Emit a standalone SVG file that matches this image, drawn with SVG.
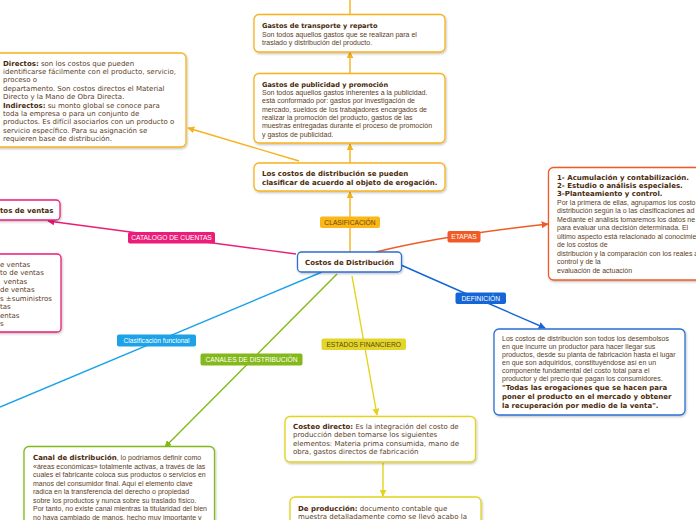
<svg xmlns="http://www.w3.org/2000/svg" width="696" height="520" viewBox="0 0 696 520">
<defs>
<style>
.box{fill:#fff;stroke-width:1.3;filter:url(#sh)}
.t{font-family:"DejaVu Sans",Verdana,sans-serif;font-size:7px;fill:#5c3d1e}
.a{font-family:"Liberation Sans",Arial,sans-serif;font-size:7px;fill:#5c3d1e}
.b{font-family:"DejaVu Sans",Verdana,sans-serif;font-weight:bold;fill:#4a2a0a}
.ti{font-size:6.6px}
.lbl{font-family:"Liberation Sans",Arial,sans-serif;font-size:6.7px;text-anchor:middle;fill:#fff}
.e{fill:none;stroke-width:1.4}
.or{stroke:#f7b21c}.pk{stroke:#ec1d78}.sk{stroke:#1ca2e6}.gr{stroke:#85b81a}.ye{stroke:#e3d31d}.rd{stroke:#f15a24}.bl{stroke:#1465d6}
</style>
<filter id="sh" x="-10%" y="-10%" width="130%" height="140%"><feDropShadow dx="0.8" dy="1.2" stdDeviation="1" flood-color="#000" flood-opacity="0.25"/></filter>
<marker id="mOr" viewBox="0 0 10 10" refX="9" refY="5" markerWidth="7" markerHeight="7" markerUnits="userSpaceOnUse" orient="auto"><path d="M0,0L10,5L0,10z" fill="#f7b21c"/></marker>
<marker id="mPk" viewBox="0 0 10 10" refX="9" refY="5" markerWidth="7" markerHeight="7" markerUnits="userSpaceOnUse" orient="auto"><path d="M0,0L10,5L0,10z" fill="#ec1d78"/></marker>
<marker id="mGr" viewBox="0 0 10 10" refX="9" refY="5" markerWidth="7" markerHeight="7" markerUnits="userSpaceOnUse" orient="auto"><path d="M0,0L10,5L0,10z" fill="#85b81a"/></marker>
<marker id="mYe" viewBox="0 0 10 10" refX="9" refY="5" markerWidth="7" markerHeight="7" markerUnits="userSpaceOnUse" orient="auto"><path d="M0,0L10,5L0,10z" fill="#e3d31d"/></marker>
<marker id="mRd" viewBox="0 0 10 10" refX="9" refY="5" markerWidth="7" markerHeight="7" markerUnits="userSpaceOnUse" orient="auto"><path d="M0,0L10,5L0,10z" fill="#f15a24"/></marker>
<marker id="mBl" viewBox="0 0 10 10" refX="9" refY="5" markerWidth="7" markerHeight="7" markerUnits="userSpaceOnUse" orient="auto"><path d="M0,0L10,5L0,10z" fill="#1465d6"/></marker>
</defs>
<rect width="696" height="520" fill="#fff"/>

<g id="connectors">
<path class="e or" d="M350,252V192" marker-end="url(#mOr)"/>
<path class="e or" d="M350,163V144" marker-end="url(#mOr)"/>
<path class="e or" d="M350,73V52" marker-end="url(#mOr)"/>
<path class="e or" d="M350,14V0"/>
<path class="e or" d="M299,161L188,128" marker-end="url(#mOr)"/>
<path class="e pk" d="M296,254L48,221" marker-end="url(#mPk)"/>
<path class="e sk" d="M322,272L0,407"/>
<path class="e gr" d="M337,274L165,447" marker-end="url(#mGr)"/>
<path class="e ye" d="M352,276L377,415" marker-end="url(#mYe)"/>
<path class="e ye" d="M383,463V496" marker-end="url(#mYe)"/>
<path class="e rd" d="M376,252Q440,236 548,224" marker-end="url(#mRd)"/>
<path class="e bl" d="M401,265Q480,300 545,328" marker-end="url(#mBl)"/>
<rect x="320" y="216.5" width="60" height="11.5" rx="2" fill="#fbb617"/>
<text class="lbl" x="350" y="224.8" style="fill:#6b4810">CLASIFICACIÓN</text>
<rect x="128" y="232" width="87" height="11.5" rx="2" fill="#ec1d78"/>
<text class="lbl" x="171.5" y="240.3">CATALOGO DE CUENTAS</text>
<rect x="447.5" y="231" width="33" height="11.5" rx="2" fill="#f15a24"/>
<text class="lbl" x="464" y="239.3">ETAPAS</text>
<rect x="455.5" y="292.5" width="50.5" height="11.5" rx="2" fill="#1465d6"/>
<text class="lbl" x="480.7" y="300.8">DEFINICIÓN</text>
<rect x="117" y="334.5" width="79" height="12" rx="2" fill="#1ca2e6"/>
<text class="lbl" x="156.5" y="343">Clasificación funcional</text>
<rect x="200.5" y="353.5" width="102" height="12" rx="2" fill="#85b81a"/>
<text class="lbl" x="251.5" y="362">CANALES DE DISTRIBUCIÓN</text>
<rect x="321.5" y="338.5" width="84.5" height="11.5" rx="2" fill="#e3d52a"/>
<text class="lbl" x="363.7" y="346.8" style="fill:#5a4a10">ESTADOS FINANCIERO</text>
</g>

<g id="central">
<rect class="box" x="297.5" y="252" width="104" height="20" rx="4" stroke="#2b6fd3"/>
<text class="b" x="349.5" y="264.5" font-size="7" text-anchor="middle">Costos de Distribución</text>
</g>

<g id="transporte">
<rect class="box" x="254" y="14.5" width="191" height="37.5" rx="5" stroke="#f7b21c"/>
<text class="b ti" x="262" y="27.5">Gastos de transporte y reparto</text>
<text class="a" x="262" y="37">Son todos aquellos gastos que se realizan para el</text>
<text class="a" x="262" y="45.3">traslado y distribución del producto.</text>
</g>

<g id="publicidad">
<rect class="box" x="254" y="73.5" width="191" height="69.5" rx="5" stroke="#f7b21c"/>
<text class="b ti" x="262" y="86.5">Gastos de publicidad y promoción</text>
<text class="a" x="262" y="95">Son todos aquellos gastos inherentes a la publicidad.</text>
<text class="a" x="262" y="103.3"> está conformado por: gastos por investigación de</text>
<text class="a" x="262" y="111.6">mercado, sueldos de los trabajadores encargados de</text>
<text class="a" x="262" y="119.9">realizar la promoción del producto, gastos de las</text>
<text class="a" x="262" y="128.2">muestras entregadas durante el proceso de promoción</text>
<text class="a" x="262" y="136.5">y gastos de publicidad.</text>
</g>

<g id="clasificar">
<rect class="box" x="254" y="163" width="191" height="28" rx="5" stroke="#f7b21c"/>
<text class="b" x="262" y="176" font-size="7">Los costos de distribución se pueden</text>
<text class="b" x="262" y="184.6" font-size="7">clasificar de acuerdo al objeto de erogación.</text>
</g>

<g id="directos">
<rect class="box" x="-5" y="53" width="191" height="94" rx="5" stroke="#f7b21c"/>
<text class="t" x="3" y="65.5"><tspan class="b">Directos:</tspan> son los costos que pueden</text>
<text class="t" x="3" y="73.9">identificarse fácilmente con el producto, servicio,</text>
<text class="t" x="3" y="82.3">proceso o</text>
<text class="t" x="3" y="90.7">departamento. Son costos directos el Material</text>
<text class="t" x="3" y="99.1">Directo y la Mano de Obra Directa.</text>
<text class="t" x="3" y="107.5"><tspan class="b">Indirectos:</tspan> su monto global se conoce para</text>
<text class="t" x="3" y="115.9">toda la empresa o para un conjunto de</text>
<text class="t" x="3" y="124.3">productos. Es difícil asociarlos con un producto o</text>
<text class="t" x="3" y="132.7">servicio específico. Para su asignación se</text>
<text class="t" x="3" y="141.1">requieren base de distribución.</text>
</g>

<g id="costos-ventas">
<rect class="box" x="-10" y="200" width="70" height="20" rx="4" stroke="#ec1d78"/>
<text class="b" x="0" y="213" font-size="7">tos de ventas</text>
</g>

<g id="catalogo-lista">
<rect class="box" x="-10" y="254" width="71" height="78" rx="4" stroke="#ec1d78"/>
<text class="t" x="0" y="266.5">e ventas</text>
<text class="t" x="0" y="275">to de ventas</text>
<text class="t" x="3.5" y="283.5">ventas</text>
<text class="t" x="0" y="292">de ventas</text>
<text class="t" x="0" y="300.5">s ±suministros</text>
<text class="t" x="0" y="309">tas</text>
<text class="t" x="0" y="317.5">entas</text>
<text class="t" x="0" y="326">s</text>
</g>

<g id="etapas">
<rect class="box" x="548.5" y="167.5" width="160" height="112.5" rx="5" stroke="#f15a24"/>
<text class="b" x="557" y="179.5" font-size="7">1- Acumulación y contabilización.</text>
<text class="b" x="557" y="188" font-size="7">2- Estudio o análisis especiales.</text>
<text class="b" x="557" y="196.4" font-size="7">3-Planteamiento y control.</text>
<text class="a" x="557" y="204.9">Por la primera de ellas, agrupamos los costo</text>
<text class="a" x="557" y="213.3">distribución según la o las clasificaciones ad</text>
<text class="a" x="557" y="221.8">Mediante el análisis tomaremos los datos ne</text>
<text class="a" x="557" y="230.2">para evaluar una decisión determinada. El</text>
<text class="a" x="557" y="238.7">último aspecto está relacionado al conocimie</text>
<text class="a" x="557" y="247.1">de los costos de</text>
<text class="a" x="557" y="255.6">distribución y la comparación con los reales a</text>
<text class="a" x="557" y="264">control y de la</text>
<text class="a" x="557" y="272.5">evaluación de actuación</text>
</g>

<g id="definicion">
<rect class="box" x="494" y="329" width="191" height="86" rx="5" stroke="#2b6fd3"/>
<text class="a" x="502" y="340.5">Los costos de distribución son todos los desembolsos</text>
<text class="a" x="502" y="348.5">en que incurre un  productor para hacer llegar sus</text>
<text class="a" x="502" y="356.5">productos, desde su planta de fabricación hasta el lugar</text>
<text class="a" x="502" y="364.5">en que son adquiridos, constituyéndose así en un</text>
<text class="a" x="502" y="372.5">componente fundamental del costo total para el</text>
<text class="a" x="502" y="380.5">productor y del precio que pagan los consumidores.</text>
<text class="b" x="502" y="390" font-size="7">"Todas las erogaciones que se hacen para</text>
<text class="b" x="502" y="399" font-size="7">poner el producto en el mercado y obtener</text>
<text class="b" x="502" y="408" font-size="7">la recuperación por medio de la venta".</text>
</g>

<g id="costeo-directo">
<rect class="box" x="285" y="416.5" width="190.5" height="45.5" rx="5" stroke="#e3d31d"/>
<text class="t" x="293" y="428.5"><tspan class="b">Costeo directo:</tspan> Es la integración del costo de</text>
<text class="t" x="293" y="437">producción deben tomarse los siguientes</text>
<text class="t" x="293" y="445.5">elementos: Materia prima consumida, mano de</text>
<text class="t" x="293" y="454">obra, gastos directos de fabricación</text>
</g>

<g id="de-produccion">
<rect class="box" x="290" y="497" width="191" height="35" rx="5" stroke="#e3d31d"/>
<text class="t" x="298" y="511"><tspan class="b">De producción:</tspan> documento contable que</text>
<text class="t" x="298" y="519">muestra detalladamente como se llevó acabo la</text>
</g>

<g id="canal">
<rect class="box" x="24" y="446.5" width="190.5" height="90" rx="5" stroke="#85b81a"/>
<text class="a" x="33" y="460"><tspan class="b">Canal de distribución</tspan>, lo podríamos definir como</text>
<text class="a" x="33" y="468.5">«áreas económicas» totalmente activas, a través de las</text>
<text class="a" x="33" y="477">cuales el fabricante coloca sus productos o servicios en</text>
<text class="a" x="33" y="485.5">manos del consumidor final. Aquí el elemento clave</text>
<text class="a" x="33" y="494">radica en la transferencia del derecho o propiedad</text>
<text class="a" x="33" y="502.5">sobre los productos y nunca sobre su traslado físico.</text>
<text class="a" x="33" y="511">Por tanto, no existe canal mientras la titularidad del bien</text>
<text class="a" x="33" y="519.5">no haya cambiado de manos, hecho muy importante y</text>
</g>
</svg>
